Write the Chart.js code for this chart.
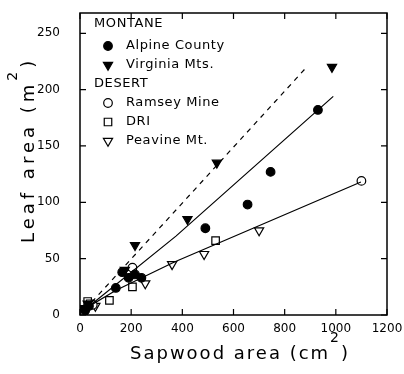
<!DOCTYPE html>
<html>
<head>
<meta charset="utf-8">
<script src="https://cdn.jsdelivr.net/npm/chart.js@4"></script>
<style>
  html,body{margin:0;padding:0;background:#fff;}
  #wrap{width:404px;height:374px;}
</style>
</head>
<body>
<div id="wrap"><canvas id="chart"></canvas></div>
<script>
// Montane sites
var alpineX = [20, 35, 140, 165, 190, 215, 240, 490, 655, 745, 930]
var alpineY = [4, 8, 24, 38, 33, 36, 33, 77, 98, 127, 182]
var virginiaX = [15, 30, 175, 215, 420, 535, 985]
var virginiaY = [6, 10, 40, 62, 85, 135, 220]
// Desert sites
var ramseyX = [20, 50, 195, 205, 1100]
var ramseyY = [5, 9, 36, 42, 119]
var driX = [15, 30, 40, 115, 205, 530]
var driY = [3, 12, 10, 13, 25, 66]
var peavineX = [10, 60, 255, 360, 485, 700]
var peavineY = [3, 8, 28, 45, 54, 75]
// fitted lines
var dashX = [20, 886]
var dashY = [5, 220]
var montaneFitX = [15, 375, 990]
var montaneFitY = [4, 70, 194]
var desertFitX = [15, 141, 369, 1098]
var desertFitY = [5, 22, 47, 118]

var xTicks = [0, 200, 400, 600, 800, 1000, 1200]
var yTicks = [0, 50, 100, 150, 200, 250]

function pts(xs, ys){
  return xs.map(function(x, i){ return {x: x, y: ys[i]} })
}

function marker(label, xs, ys, style, filled, rot, r){
  return {
    label: label,
    data: pts(xs, ys),
    pointStyle: style,
    pointRotation: rot,
    pointRadius: r,
    pointBackgroundColor: filled ? '#000' : '#fff',
    pointBorderColor: '#000',
    pointBorderWidth: 1.2,
    showLine: false
  }
}
function fitLine(xs, ys, dash){
  return {
    label: '',
    data: pts(xs, ys),
    showLine: true,
    borderColor: '#000',
    borderWidth: 1.2,
    borderDash: dash,
    pointRadius: 0,
    fill: false
  }
}

var datasets = [
  fitLine(dashX, dashY, [5, 5]),
  fitLine(montaneFitX, montaneFitY, []),
  fitLine(desertFitX, desertFitY, []),
  marker('Alpine County', alpineX, alpineY, 'circle', true, 0, 4.3),
  marker('Virginia Mts.', virginiaX, virginiaY, 'triangle', true, 180, 5.3),
  marker('Ramsey Mine', ramseyX, ramseyY, 'circle', false, 0, 4.3),
  marker('DRI', driX, driY, 'rect', false, 0, 5.3),
  marker('Peavine Mt.', peavineX, peavineY, 'triangle', false, 180, 5.3)
]

var legendRows = [
  {head: 'MONTANE'},
  {ds: 3},
  {ds: 4},
  {head: 'DESERT'},
  {ds: 5},
  {ds: 6},
  {ds: 7}
]

function noPad(s){
  s.paddingTop = 0; s.paddingBottom = 0; s.paddingLeft = 0; s.paddingRight = 0
}

var framePlugin = {
  id: 'frame',
  afterDraw: function(chart){
    var ctx = chart.ctx
    var a = chart.chartArea
    var xs = chart.scales.x, ys = chart.scales.y
    ctx.save()
    ctx.strokeStyle = '#000'
    ctx.lineWidth = 1.5
    ctx.strokeRect(a.left, a.top, a.right - a.left, a.bottom - a.top)
    // inward ticks
    ctx.lineWidth = 1.2
    ctx.beginPath()
    xTicks.forEach(function(v){
      var px = xs.getPixelForValue(v)
      ctx.moveTo(px, a.bottom); ctx.lineTo(px, a.bottom - 6)
      ctx.moveTo(px, a.top); ctx.lineTo(px, a.top + 6)
    })
    yTicks.forEach(function(v){
      var py = ys.getPixelForValue(v)
      ctx.moveTo(a.left, py); ctx.lineTo(a.left + 6, py)
      ctx.moveTo(a.right, py); ctx.lineTo(a.right - 6, py)
    })
    ctx.stroke()

    // axis titles with superscript 2
    ctx.fillStyle = '#000'
    ctx.letterSpacing = '2px'
    ctx.textBaseline = 'alphabetic'
    ctx.textAlign = 'left'
    var big = '18px "DejaVu Sans"', small = '14px "DejaVu Sans"'
    ctx.font = big
    var t1 = 'Sapwood area (cm'
    var w1 = ctx.measureText(t1).width
    ctx.font = small
    var w2 = ctx.measureText('2').width
    var x0 = 130
    ctx.font = big
    ctx.fillText(t1, x0, 359)
    ctx.font = small
    ctx.fillText('2', x0 + w1, 342)
    ctx.font = big
    ctx.fillText(')', x0 + w1 + w2, 359)

    ctx.save()
    ctx.letterSpacing = '4px'
    ctx.translate(34, 243)
    ctx.rotate(-Math.PI / 2)
    var t2 = 'Leaf area (m'
    ctx.font = big
    var u1 = ctx.measureText(t2).width
    ctx.fillText(t2, 0, 0)
    ctx.font = small
    var u2 = ctx.measureText('2').width
    ctx.fillText('2', u1, -17)
    ctx.font = big
    ctx.fillText(')', u1 + u2, 0)
    ctx.restore()

    // legend inside the plot
    ctx.letterSpacing = '0.6px'
    ctx.font = '13px "DejaVu Sans"'
    ctx.textBaseline = 'middle'
    var rowY = [24, 46, 65, 84, 103, 122, 141]
    legendRows.forEach(function(row, i){
      var y = rowY[i]
      if (row.head){
        ctx.fillStyle = '#000'
        ctx.fillText(row.head, a.left + 14, y)
      } else {
        var d = datasets[row.ds]
        ctx.fillStyle = d.pointBackgroundColor
        ctx.strokeStyle = '#000'
        ctx.lineWidth = 1.2
        Chart.helpers.drawPoint(ctx, {
          pointStyle: d.pointStyle,
          rotation: d.pointRotation,
          radius: d.pointRadius,
          borderWidth: 1.2
        }, a.left + 28, y)
        ctx.fillStyle = '#000'
        ctx.fillText(d.label, a.left + 46, y)
      }
    })
    ctx.restore()
  }
}

new Chart(document.getElementById('chart'), {
  type: 'scatter',
  data: {datasets: datasets},
  options: {
    responsive: true,
    maintainAspectRatio: false,
    animation: false,
    layout: {padding: {top: 13, right: 17, left: 0, bottom: 0}},
    plugins: {legend: {display: false}, tooltip: {enabled: false}},
    scales: {
      x: {
        type: 'linear',
        min: 0, max: 1200,
        afterFit: function(s){ s.height = 59; noPad(s) },
        afterBuildTicks: function(s){ s.ticks = xTicks.map(function(v){ return {value: v} }) },
        grid: {display: false, drawTicks: false},
        border: {display: false},
        ticks: {color: '#000', padding: 7, maxRotation: 0, font: {family: 'DejaVu Sans', size: 12},
          callback: function(v){ return String(v) }}
      },
      y: {
        type: 'linear',
        min: 0, max: 268,
        afterFit: function(s){ s.width = 80; noPad(s) },
        afterBuildTicks: function(s){ s.ticks = yTicks.map(function(v){ return {value: v} }) },
        grid: {display: false, drawTicks: false},
        border: {display: false},
        ticks: {color: '#000', padding: 20, font: {family: 'DejaVu Sans', size: 12},
          callback: function(v){ return String(v) }}
      }
    }
  },
  plugins: [framePlugin]
})
</script>
</body>
</html>
